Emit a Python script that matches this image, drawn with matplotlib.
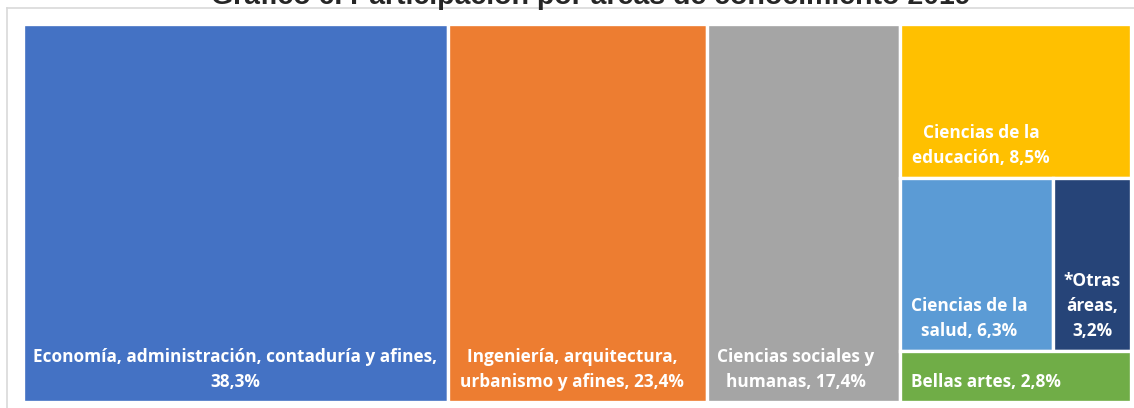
import matplotlib.pyplot as plt
from matplotlib.patches import Rectangle
from matplotlib.lines import Line2D

# Datos
areas = [
    "Economía, administración, contaduría y afines,\n38,3%",
    "Ingeniería, arquitectura,\nurbanismo y afines, 23,4%",
    "Ciencias sociales y\nhumanas, 17,4%",
    "Ciencias de la\neducación, 8,5%",
    "Ciencias de la\nsalud, 6,3%",
    "*Otras\náreas,\n3,2%",
    "Bellas artes, 2,8%",
]
valores = [38.3, 23.4, 17.4, 8.5, 6.3, 3.2, 2.8]
colores = ["#4472C4", "#ED7D31", "#A5A5A5", "#FFC000", "#5B9BD5", "#264478", "#70AD47"]

# columnas -> filas -> índices (orden del treemap)
columnas = [[[0]], [[1]], [[2]], [[3], [4, 5], [6]]]
# posición horizontal de la etiqueta dentro de cada rectángulo (fracción del ancho)
pos_etiqueta = [0.50, 0.48, 0.46, 0.35, 0.45, 0.50, 0.37]

W, H = 1134, 408
fig = plt.figure(figsize=(W / 100, H / 100), dpi=100)
fig.patch.set_facecolor("white")

# marco gris claro
fig.add_artist(Line2D([7 / W, 1], [1 - 8 / H, 1 - 8 / H], color="#d9d9d9", lw=1.2))
fig.add_artist(Line2D([7 / W, 7 / W], [0, 1 - 8 / H], color="#d9d9d9", lw=1.2))

# título (recortado en la parte superior, como en el original)
fig.text(591 / W, 1 - 4 / H, "Gráfico 6. Participación por áreas de conocimiento 2019",
         ha="center", va="baseline", fontsize=20.5, fontweight="bold",
         family="Liberation Sans", color="#262626")

ax = fig.add_axes([23 / W, 6 / H, 1108 / W, 378 / H])
ax.set_xlim(0, 100)
ax.set_ylim(0, 100)
ax.axis("off")

# cálculo del treemap a partir de los valores
total = sum(valores)
rects = {}
x = 0
for col in columnas:
    suma_col = sum(valores[i] for fila in col for i in fila)
    w = 100 * suma_col / total
    y = 100
    for fila in col:
        suma_fila = sum(valores[i] for i in fila)
        h = 100 * suma_fila / suma_col
        y -= h
        xx = x
        for i in fila:
            ww = w * valores[i] / suma_fila
            rects[i] = (xx, y, ww, h)
            xx += ww
    x += w

for i, (x0, y0, w, h) in rects.items():
    ax.add_patch(Rectangle((x0, y0), w, h, facecolor=colores[i],
                           edgecolor="white", lw=2.4, clip_on=False))
    ax.annotate(areas[i], (x0 + w * pos_etiqueta[i], y0), xytext=(0, 11),
                textcoords="offset pixels", ha="center", va="bottom",
                color="white", fontsize=12.4, fontweight="bold",
                family="Open Sans", linespacing=1.5)

fig.savefig("out.png", dpi=100)
